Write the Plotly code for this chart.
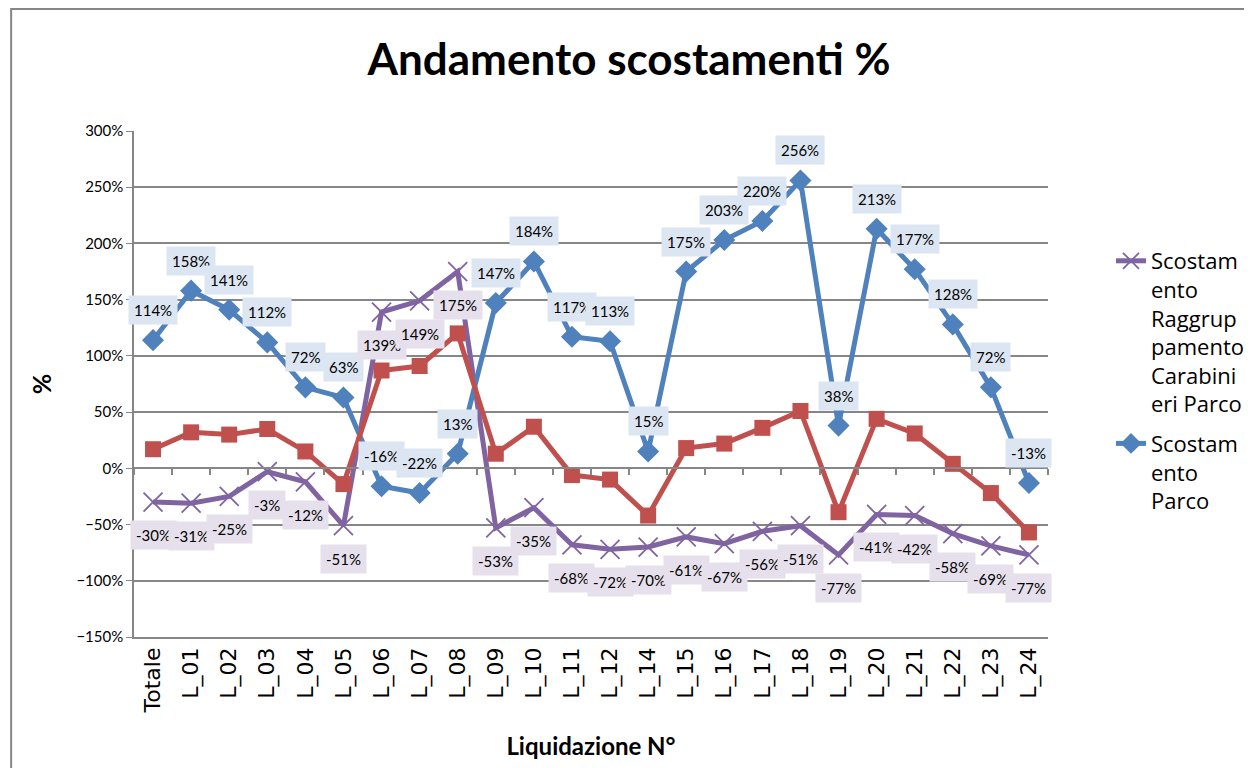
import plotly.graph_objects as go

categories = ["Totale", "L_01", "L_02", "L_03", "L_04", "L_05", "L_06", "L_07", "L_08", "L_09",
              "L_10", "L_11", "L_12", "L_14", "L_15", "L_16", "L_17", "L_18", "L_19", "L_20",
              "L_21", "L_22", "L_23", "L_24"]

raggruppamento = [-30, -31, -25, -3, -12, -51, 139, 149, 175, -53, -35, -68, -72, -70, -61, -67,
                  -56, -51, -77, -41, -42, -58, -69, -77]
parco = [114, 158, 141, 112, 72, 63, -16, -22, 13, 147, 184, 117, 113, 15, 175, 203, 220, 256,
         38, 213, 177, 128, 72, -13]
terza_serie = [17, 32, 30, 35, 15, -14, 87, 91, 120, 13, 37, -6, -10, -42, 18, 22, 36, 51, -39,
               44, 31, 4, -22, -57]

name_ragg = "Scostam<br>ento<br>Raggrup<br>pamento<br>Carabini<br>eri Parco"
name_parco = "Scostam<br>ento<br>Parco"

PURPLE = "#8064A2"
BLUE = "#4F81BD"
RED = "#C0504D"
GRID = "#868686"

# plot area in page pixels: x 134..1049, y 131..637 ; the page body adds an 8 px offset
OFF = 8
L, T, W, H = 134 - OFF, 131 - OFF, 915, 506

fig = go.Figure()
fig.add_trace(go.Scatter(
    x=categories, y=raggruppamento, name=name_ragg, mode="lines+markers", legendgroup="a",
    line=dict(color=PURPLE, width=5),
    marker=dict(symbol="x-thin-open", size=19, line=dict(color=PURPLE, width=1.8), color=PURPLE),
))
fig.add_trace(go.Scatter(
    x=categories, y=parco, name=name_parco, mode="lines+markers", legendgroup="b",
    line=dict(color=BLUE, width=5),
    marker=dict(symbol="diamond", size=17, color=BLUE),
))
fig.add_trace(go.Scatter(
    x=categories, y=terza_serie, name="Scostamento", mode="lines+markers", showlegend=False,
    line=dict(color=RED, width=5),
    marker=dict(symbol="square", size=16, color=RED),
))
# helper trace for the category axis drawn at y = 0
fig.add_trace(go.Scatter(x=categories, y=[None] * len(categories), xaxis="x2",
                         showlegend=False, hoverinfo="skip"))

LABEL_FONT = dict(family="Lato, Open Sans, sans-serif", size=15, color="#000")
annotations = []
for c, v in zip(categories, parco):
    annotations.append(dict(x=c, y=v, text=f"{v}%", showarrow=False, yshift=30,
                            bgcolor="#DCE6F2", borderpad=5, font=LABEL_FONT))
for c, v in zip(categories, raggruppamento):
    annotations.append(dict(x=c, y=v, text=f"{v}%", showarrow=False, yshift=-33,
                            bgcolor="#E6E0EC", borderpad=5, font=LABEL_FONT))

fig.update_layout(
    width=1252, height=768,
    margin=dict(l=L, r=1252 - L - W, t=T, b=768 - T - H),
    paper_bgcolor="white", plot_bgcolor="white",
    title=dict(text="<b>Andamento scostamenti %</b>", x=(629 - OFF) / 1252, xanchor="center",
               xref="container", y=1 - (60 - OFF) / 768, yref="container", yanchor="middle",
               font=dict(family="Lato, Open Sans, sans-serif", size=44, color="#000")),
    xaxis=dict(type="category", categoryorder="array", categoryarray=categories,
               tickangle=-90, tickfont=dict(family="DejaVu Sans", size=22, color="#000"),
               showgrid=False, showline=True, linecolor=GRID, linewidth=1.5, ticks="",
               range=[-0.5, len(categories) - 0.5],
               title=dict(text="<b>Liquidazione N°</b>", standoff=26,
                          font=dict(family="Lato, Open Sans, sans-serif", size=24, color="#000"))),
    xaxis2=dict(type="category", matches="x", overlaying="x", anchor="free", position=150 / 450,
                showticklabels=False, ticks="outside", ticklen=6, tickcolor=GRID, tickwidth=1.5,
                tickson="boundaries", showline=True, linecolor=GRID, linewidth=1.5, showgrid=False),
    yaxis=dict(range=[-150, 300], dtick=50, ticksuffix="%", showgrid=True, gridcolor=GRID,
               gridwidth=1.5, zeroline=False, showline=True, linecolor=GRID, linewidth=1.5,
               ticks="outside", ticklen=6, tickcolor=GRID,
               tickfont=dict(family="Lato, Open Sans, sans-serif", size=15, color="#000"),
               title=dict(text="<b>%</b>", standoff=18,
                          font=dict(family="Lato, Open Sans, sans-serif", size=25, color="#000"))),
    legend=dict(x=(1111 - 134) / W, y=(637 - 240) / H, xanchor="left", yanchor="top",
                tracegroupgap=8, valign="top",
                font=dict(family="Open Sans, Lato, sans-serif", size=22, color="#000"),
                bgcolor="rgba(0,0,0,0)"),
    annotations=annotations,
    shapes=[dict(type="rect", xref="paper", yref="paper", x0=(11 - 134) / W, x1=(1300 - 134) / W,
                 y0=(637 - 800) / H, y1=(637 - 9) / H, line=dict(color=GRID, width=2),
                 fillcolor="rgba(0,0,0,0)", layer="below")],
)

fig.write_html("out.html")
